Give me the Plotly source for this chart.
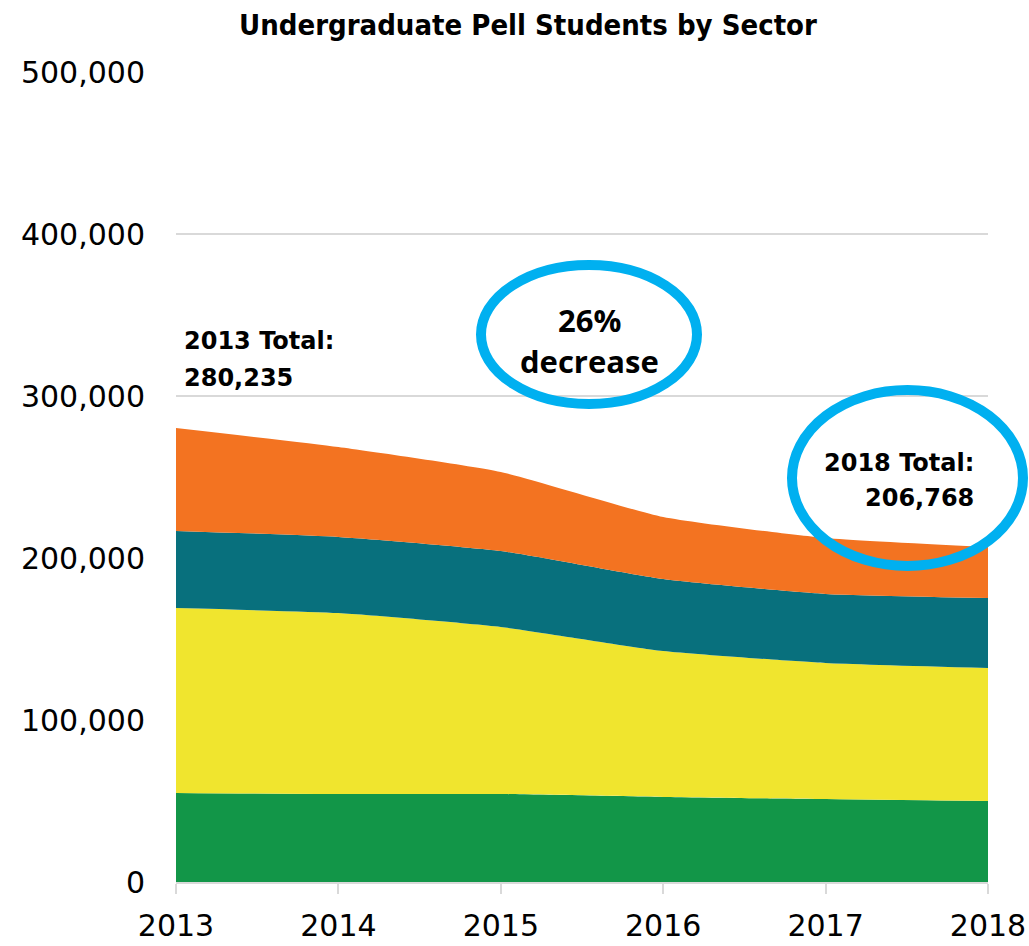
import plotly.graph_objects as go

# Undergraduate Pell students by sector, stacked bottom to top
years = [2013, 2014, 2015, 2016, 2017, 2018]
sector_green = [54900, 54300, 54300, 52500, 51200, 50000]
sector_yellow = [114200, 111700, 103100, 90100, 84000, 82100]
sector_teal = [47600, 47000, 46900, 44400, 42600, 43200]
sector_orange = [63535, 55500, 48800, 38300, 34500, 31468]

y_ticks = [0, 100000, 200000, 300000, 400000, 500000]
y_tick_text = ["0", "100,000", "200,000", "300,000", "400,000", "500,000"]

series = [
    ("Green", sector_green, "#129648"),
    ("Yellow", sector_yellow, "#F0E52E"),
    ("Teal", sector_teal, "#08707D"),
    ("Orange", sector_orange, "#F37321"),
]

fig = go.Figure()
for name, vals, color in series:
    fig.add_trace(go.Scatter(
        x=years, y=vals, name=name, stackgroup="one", mode="lines",
        line=dict(width=0, shape="spline", smoothing=0.5, color=color),
        fillcolor=color, hoverinfo="skip",
    ))

total_first = sum(s[1][0] for s in series)
total_last = sum(s[1][-1] for s in series)
pct = round((total_first - total_last) / total_first * 100)

W, H = 1029, 946
L, R, T, B = 176, 41, 72, 64
pw, ph = W - L - R, H - T - B


def px(xp):
    return (xp - L) / pw


def py(yp):
    return (H - B - yp) / ph


label_font = dict(family="DejaVu Sans, sans-serif", size=24, color="black")
callout_font = dict(family="Open Sans, sans-serif", size=31, color="black")
tick_font = dict(family="DejaVu Sans, sans-serif", size=30, color="black")

annotations = [
    dict(text="<b>Undergraduate Pell Students by Sector</b>", x=px(528), y=py(25),
         xanchor="center", yanchor="middle",
         font=dict(family="DejaVu Sans Condensed, DejaVu Sans, sans-serif", size=29, color="black")),
    dict(text="<b>2013 Total:</b>", x=px(182), y=py(341), xanchor="left", yanchor="middle", font=label_font),
    dict(text=f"<b>{total_first:,}</b>", x=px(182), y=py(378), xanchor="left", yanchor="middle", font=label_font),
    dict(text=f"<b>{pct}%</b>", x=px(589), y=py(320), xanchor="center", yanchor="middle", font=callout_font),
    dict(text="<b>decrease</b>", x=px(589), y=py(361), xanchor="center", yanchor="middle", font=callout_font),
    dict(text="<b>2018 Total:</b>", x=px(976), y=py(463), xanchor="right", yanchor="middle", font=label_font),
    dict(text=f"<b>{total_last:,}</b>", x=px(976), y=py(498), xanchor="right", yanchor="middle", font=label_font),
]
for a in annotations:
    a.update(xref="paper", yref="paper", showarrow=False)

ring = dict(color="#00B0F0", width=10)
shapes = [
    dict(type="circle", xref="paper", yref="paper",
         x0=px(481), x1=px(697), y0=py(404), y1=py(265), line=ring),
    dict(type="circle", xref="paper", yref="paper",
         x0=px(792), x1=px(1023), y0=py(566), y1=py(390), line=ring),
]

fig.update_layout(
    width=W, height=H,
    margin=dict(l=L, r=R, t=T, b=B, autoexpand=False),
    paper_bgcolor="white", plot_bgcolor="white",
    showlegend=False,
    annotations=annotations,
    shapes=shapes,
    xaxis=dict(
        range=[2013, 2018], tickvals=years, ticktext=[str(y) for y in years],
        showgrid=False, zeroline=False, automargin=False,
        showline=True, linecolor="#D9D9D9", linewidth=1.5,
        ticks="outside", ticklen=10, tickcolor="#D9D9D9", tickwidth=1.5,
        ticklabelstandoff=6,
        tickfont=tick_font,
    ),
    yaxis=dict(
        range=[0, 500000], tickvals=y_ticks, ticktext=y_tick_text,
        showgrid=True, gridcolor="#D9D9D9", gridwidth=1.5,
        zeroline=False, showline=False, ticks="", automargin=False,
        ticklabelstandoff=30,
        tickfont=tick_font,
    ),
)

fig.write_html("out.html")
